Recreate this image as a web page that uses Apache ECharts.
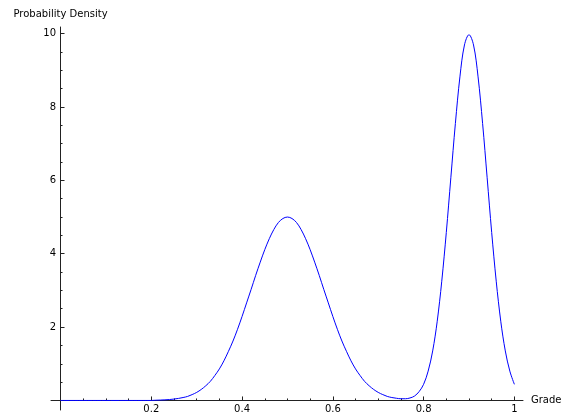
<!DOCTYPE html>
<html>
<head>
<meta charset="utf-8">
<script src="https://cdn.jsdelivr.net/npm/echarts@6/dist/echarts.min.js"></script>
<style>
  html, body { margin: 0; padding: 0; background: #ffffff; }
  #chart { width: 563px; height: 416px; }
</style>
</head>
<body>
<div id="chart"></div>
<script>
// Grade values sampled every 0.01 from 0 to 1
const grades = [];
for (let i = 0; i <= 100; i++) grades.push(+(i / 100).toFixed(2));

// Probability density at each grade
const density = [
  0, 0, 0, 0, 0, 0, 0, 0, 0, 0,
  0, 0, 0, 0, 0, 0, 0, 0, 0, 0,
  0, 0.007, 0.011, 0.017, 0.025, 0.038, 0.056, 0.08, 0.11, 0.16,
  0.22, 0.30, 0.40, 0.52, 0.68, 0.86, 1.08, 1.34, 1.62, 1.94,
  2.29, 2.66, 3.03, 3.41, 3.77, 4.11, 4.41, 4.66, 4.85, 4.96,
  5.00, 4.96, 4.85, 4.66, 4.41, 4.11, 3.77, 3.41, 3.03, 2.66,
  2.29, 1.94, 1.62, 1.34, 1.08, 0.86, 0.68, 0.52, 0.40, 0.30,
  0.22, 0.16, 0.11, 0.08, 0.06, 0.047, 0.047, 0.068, 0.12, 0.24,
  0.44, 0.80, 1.35, 2.16, 3.25, 4.58, 6.07, 7.55, 8.82, 9.69,
  9.97, 9.69, 8.82, 7.55, 6.07, 4.58, 3.25, 2.16, 1.35, 0.80,
  0.44
];

// Tick positions
const xMajorTicks = [0.2, 0.4, 0.6, 0.8, 1];
const xMinorTicks = [0.05, 0.1, 0.15, 0.25, 0.3, 0.35, 0.45, 0.5, 0.55, 0.65, 0.7, 0.75, 0.85, 0.9, 0.95];
const yMajorTicks = [2, 4, 6, 8, 10];
const yMinorTicks = [0.5, 1, 1.5, 2.5, 3, 3.5, 4.5, 5, 5.5, 6.5, 7, 7.5, 8.5, 9, 9.5];

const xName = 'Grade';
const yName = 'Probability Density';

const font = 'DejaVu Sans';
const axisColor = '#222';
const xMin = -0.021, xMax = 1.019;
const yMin = -0.26, yMax = 10.18;

const points = grades.map((g, i) => [g, density[i]]);

const chart = echarts.init(document.getElementById('chart'), null, { renderer: 'canvas' });

function xAxisBase() {
  return {
    type: 'value', min: xMin, max: xMax, position: 'bottom',
    splitLine: { show: false },
    axisLine: { onZero: true, lineStyle: { color: axisColor, width: 1 } }
  };
}
function yAxisBase() {
  return {
    type: 'value', min: yMin, max: yMax, position: 'left',
    splitLine: { show: false },
    axisLine: { onZero: true, lineStyle: { color: axisColor, width: 1 } }
  };
}

chart.setOption({
  animation: false,
  backgroundColor: '#ffffff',
  grid: { left: 51, right: 40, top: 27, bottom: 6, containLabel: false, outerBoundsMode: 'none' },
  xAxis: [
    Object.assign(xAxisBase(), {
      name: xName, nameLocation: 'end', nameGap: 8,
      nameTextStyle: { fontFamily: font, fontSize: 10, color: '#000', verticalAlign: 'middle', padding: [0, 0, 4, 0] },
      axisTick: { inside: true, length: 4, customValues: xMajorTicks, lineStyle: { color: axisColor } },
      // labels sit just under the zero line
      axisLabel: { customValues: xMajorTicks, margin: -6, fontFamily: font, fontSize: 10, color: '#000' }
    }),
    Object.assign(xAxisBase(), {
      axisLine: { show: false, onZero: true, onZeroAxisIndex: 0 },
      axisTick: { inside: true, length: 2, customValues: xMinorTicks, lineStyle: { color: axisColor } },
      axisLabel: { show: false }
    })
  ],
  yAxis: [
    Object.assign(yAxisBase(), {
      name: yName, nameLocation: 'end', nameGap: 8,
      nameTextStyle: { fontFamily: font, fontSize: 10, color: '#000' },
      axisTick: { inside: true, length: 4, customValues: yMajorTicks, lineStyle: { color: axisColor } },
      // labels sit just left of the zero line
      axisLabel: { customValues: yMajorTicks, margin: -5, fontFamily: font, fontSize: 10, color: '#000' }
    }),
    Object.assign(yAxisBase(), {
      axisLine: { show: false, onZero: true, onZeroAxisIndex: 0 },
      axisTick: { inside: true, length: 2, customValues: yMinorTicks, lineStyle: { color: axisColor } },
      axisLabel: { show: false }
    })
  ],
  series: [{
    type: 'line',
    data: points,
    xAxisIndex: 0, yAxisIndex: 0,
    showSymbol: false,
    smooth: 0.35,
    lineStyle: { color: '#0000ff', width: 1 },
    z: 1
  }]
});
</script>
</body>
</html>
